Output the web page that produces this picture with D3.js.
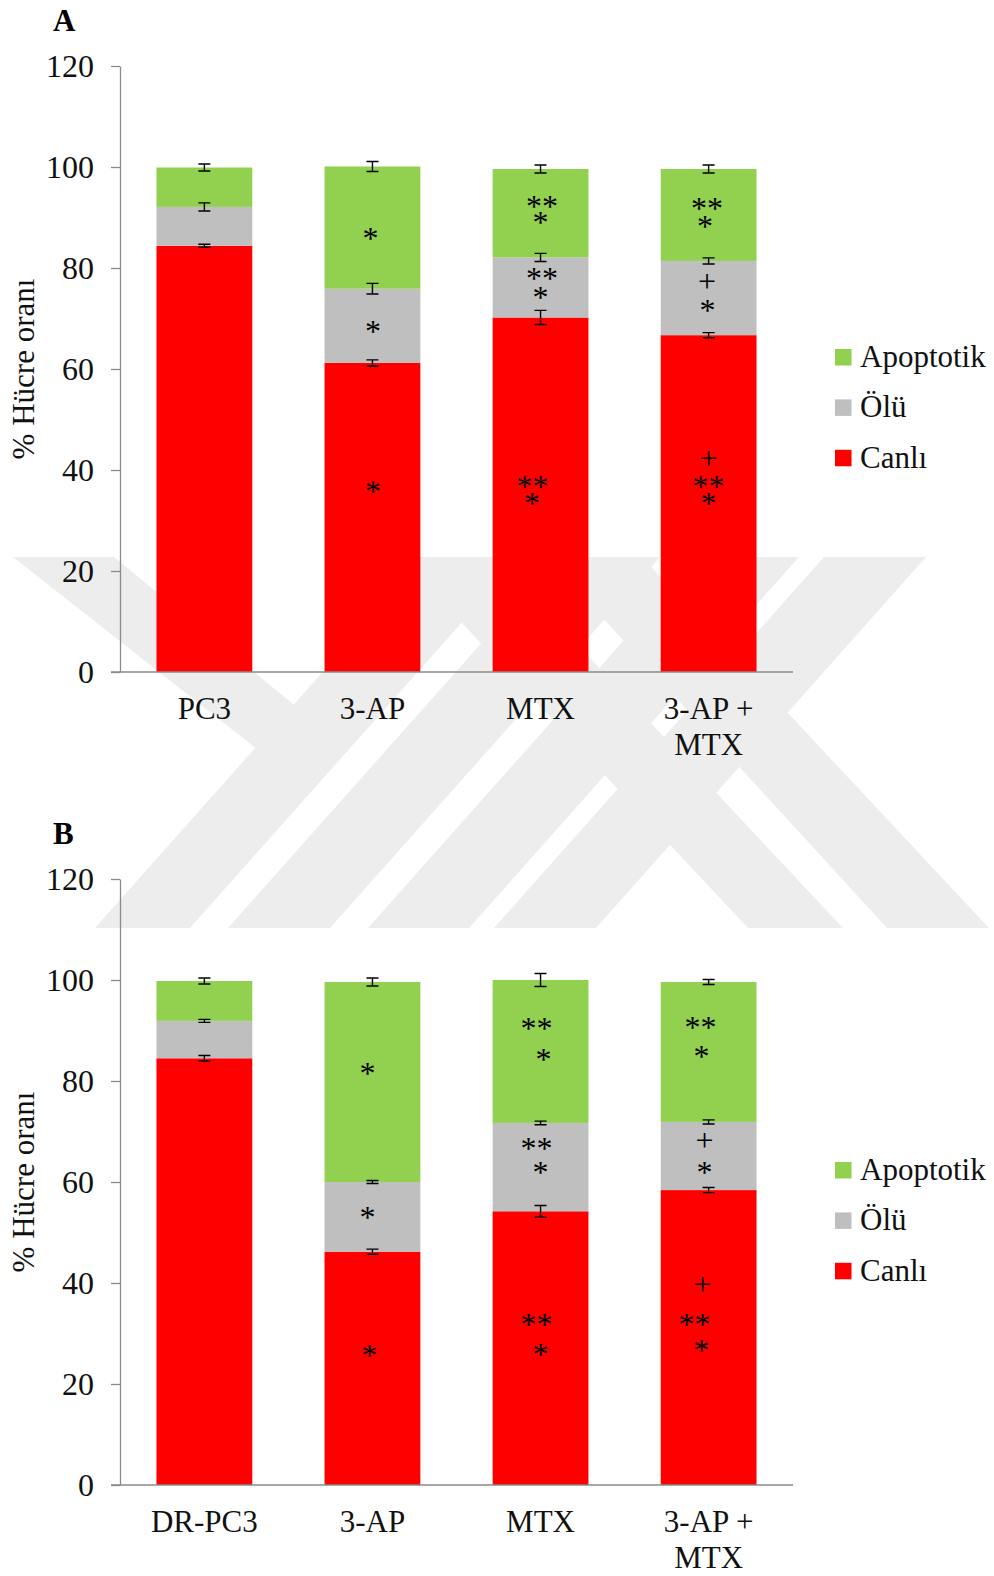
<!DOCTYPE html>
<html>
<head>
<meta charset="utf-8">
<script src="https://cdn.jsdelivr.net/npm/d3@7"></script>
<style>
  html, body { margin: 0; padding: 0; background: #ffffff; }
  svg { display: block; }
</style>
</head>
<body>
<svg id="fig" width="994" height="1576"></svg>
<script>
// ---- data ---------------------------------------------------------------
const seriesNames  = ["Canlı", "Ölü", "Apoptotik"];          // stacking order, bottom to top
const seriesColors = ["#ff0000", "#bfbfbf", "#92d050"];
const legendOrder  = ["Apoptotik", "Ölü", "Canlı"];
const yTicks       = [0, 20, 40, 60, 80, 100, 120];

// Panel A: PC3 cells
const groupsA  = ["PC3", "3-AP", "MTX", "3-AP + MTX"];
const labelsA  = [["PC3"], ["3-AP"], ["MTX"], ["3-AP +", "MTX"]];
const canliA   = [84.4, 61.2, 70.2, 66.7];
const oluA     = [7.7, 14.7, 11.9, 14.7];
const apopA    = [7.8, 24.2, 17.5, 18.2];
const canliErrA = [0.3, 0.6, 1.4, 0.5];
const oluErrA   = [0.8, 1.05, 0.8, 0.6];
const apopErrA  = [0.7, 1.0, 0.8, 0.8];
// significance marks: [group, mark, level (%), horizontal nudge]
const marksA = [
  ["3-AP", "*", 86.8, -2], ["3-AP", "*", 68.4, 0.5], ["3-AP", "*", 36.7, 0.5],
  ["MTX", "**", 93.1, 1.5], ["MTX", "*", 89.9, 0],
  ["MTX", "**", 78.8, 1.5], ["MTX", "*", 75.0, 0],
  ["MTX", "**", 37.7, -8], ["MTX", "*", 34.3, -8.5],
  ["3-AP + MTX", "**", 92.7, -1.5], ["3-AP + MTX", "*", 89.2, -3.5],
  ["3-AP + MTX", "+", 76.8, -1.5], ["3-AP + MTX", "*", 72.5, -1],
  ["3-AP + MTX", "+", 41.8, 0], ["3-AP + MTX", "**", 37.7, 0], ["3-AP + MTX", "*", 34.2, 0]
];

// Panel B: drug-resistant PC3 cells
const groupsB  = ["DR-PC3", "3-AP", "MTX", "3-AP + MTX"];
const labelsB  = [["DR-PC3"], ["3-AP"], ["MTX"], ["3-AP +", "MTX"]];
const canliB   = [84.5, 46.2, 54.2, 58.4];
const oluB     = [7.4, 13.8, 17.5, 13.5];
const apopB    = [7.9, 39.6, 28.3, 27.7];
const canliErrB = [0.55, 0.5, 1.15, 0.5];
const oluErrB   = [0.3, 0.3, 0.35, 0.4];
const apopErrB  = [0.6, 0.8, 1.3, 0.5];
const marksB = [
  ["3-AP", "*", 82.3, -5], ["3-AP", "*", 53.8, -5], ["3-AP", "*", 26.6, -3],
  ["MTX", "**", 91.3, -4], ["MTX", "*", 85.1, 3],
  ["MTX", "**", 67.6, -4], ["MTX", "*", 62.8, 0],
  ["MTX", "**", 32.6, -4], ["MTX", "*", 26.8, 0],
  ["3-AP + MTX", "**", 91.5, -8], ["3-AP + MTX", "*", 85.8, -7],
  ["3-AP + MTX", "+", 67.8, -4], ["3-AP + MTX", "*", 62.8, -4],
  ["3-AP + MTX", "+", 39.2, -6], ["3-AP + MTX", "**", 32.6, -14], ["3-AP + MTX", "*", 27.5, -7]
];

// ---- layout -------------------------------------------------------------
const FONT = '"Liberation Serif", "Times New Roman", Times, serif';
const AXIS_COLOR = "#8a8a8a";
const M = { left: 120, right: 793, top: 66, bottom: 672 };
const TICK = 9;

const svg = d3.select("#fig");
svg.append("rect").attr("width", 994).attr("height", 1576).attr("fill", "#ffffff");

// faint background emblem of diagonal bands behind both panels
(function drawEmblem() {
  const top = 557, bot = 928;
  const bands = [
    // rising bands: x-range at the bottom edge, x-range at the top edge
    [[95, 190], [425, 520]],
    [[228, 330], [558, 660]],
    [[368, 469], [698, 799]],
    [[494, 596], [824, 926]],
    // falling bands
    [[748, 843], [400, 495]],
    [[887, 989], [547, 642]]
  ];
  const polys = bands.map(([b, t]) => [[b[0], bot], [b[1], bot], [t[1], top], [t[0], top]]);
  polys.push([[13, top], [114, top], [310, 718], [267, 757]]);
  svg.append("g").selectAll("path").data(polys).join("path")
    .attr("d", p => "M" + p.map(q => q.join(",")).join("L") + "Z")
    .attr("fill", "#ededed");
})();

function drawPanel(offsetY, letter, groups, labels, canli, olu, apop, errs, marks) {
  const g = svg.append("g").attr("transform", `translate(0,${offsetY})`);

  const x = d3.scaleBand().domain(groups).range([M.left, M.right])
    .paddingInner(0.43).paddingOuter(0.217);
  const y = d3.scaleLinear().domain([0, 120]).range([M.bottom, M.top]);

  const rows = groups.map((grp, i) => ({ group: grp, "Canlı": canli[i], "Ölü": olu[i], "Apoptotik": apop[i] }));
  const stacked = d3.stack().keys(seriesNames)(rows);
  const color = d3.scaleOrdinal().domain(seriesNames).range(seriesColors);

  // y axis
  const yAxis = g.append("g").attr("transform", `translate(${M.left},0)`)
    .call(d3.axisLeft(y).tickValues(yTicks).tickSize(TICK).tickSizeOuter(0).tickPadding(17));
  yAxis.select(".domain").attr("stroke", AXIS_COLOR).attr("stroke-width", 1.3);
  yAxis.selectAll(".tick line").attr("stroke", AXIS_COLOR).attr("stroke-width", 1.3);
  yAxis.selectAll(".tick text").attr("font-family", FONT).attr("font-size", 32).attr("fill", "#111");

  // bars
  g.append("g").selectAll("g").data(stacked).join("g")
    .attr("fill", d => color(d.key))
    .selectAll("rect").data(d => d).join("rect")
    .attr("x", d => x(d.data.group))
    .attr("width", x.bandwidth())
    .attr("y", d => y(d[1]))
    .attr("height", d => y(d[0]) - y(d[1]));

  // x axis baseline
  g.append("line")
    .attr("x1", M.left - TICK).attr("x2", M.right)
    .attr("y1", y(0)).attr("y2", y(0))
    .attr("stroke", AXIS_COLOR).attr("stroke-width", 1.3);

  // error bars at every segment top
  const errRows = [];
  stacked.forEach((s, si) => s.forEach((d, gi) => {
    errRows.push({ cx: x(d.data.group) + x.bandwidth() / 2, v: d[1], e: errs[si][gi] });
  }));
  const eb = g.append("g").attr("stroke", "#000").attr("stroke-width", 1.4).attr("fill", "none");
  eb.selectAll("path").data(errRows).join("path")
    .attr("d", d => {
      const y1 = y(d.v + d.e), y2 = y(d.v - d.e), w = 6;
      return `M${d.cx - w},${y1}H${d.cx + w}M${d.cx},${y1}V${y2}M${d.cx - w},${y2}H${d.cx + w}`;
    });

  // significance marks
  const baseShift = { "*": 0.47, "**": 0.47, "+": 0.25 };
  g.append("g").selectAll("text").data(marks).join("text")
    .attr("x", d => x(d[0]) + x.bandwidth() / 2 + d[3])
    .attr("y", d => y(d[2]) + baseShift[d[1]] * 32)
    .attr("text-anchor", "middle")
    .attr("font-family", FONT).attr("font-size", 32).attr("fill", "#000")
    .text(d => d[1]);

  // category labels
  const lab = g.append("g").selectAll("text").data(groups).join("text")
    .attr("text-anchor", "middle")
    .attr("font-family", FONT).attr("font-size", 31).attr("fill", "#111")
    .attr("transform", d => `translate(${x(d) + x.bandwidth() / 2},${y(0) + 47})`);
  lab.selectAll("tspan").data((d, i) => labels[i]).join("tspan")
    .attr("x", 0).attr("dy", (d, i) => i === 0 ? 0 : 36).text(d => d);

  // y axis title
  g.append("text")
    .attr("transform", `translate(34,${(y(0) + y(120)) / 2}) rotate(-90)`)
    .attr("text-anchor", "middle")
    .attr("font-family", FONT).attr("font-size", 31).attr("fill", "#111")
    .text("% Hücre oranı");

  // panel letter
  g.append("text").attr("x", 53).attr("y", 31)
    .attr("font-family", FONT).attr("font-size", 31).attr("font-weight", "bold").attr("fill", "#000")
    .text(letter);

  // legend
  const leg = g.append("g").selectAll("g").data(legendOrder).join("g")
    .attr("transform", (d, i) => `translate(835,${357.3 + i * 50.4})`);
  leg.append("rect").attr("x", 0).attr("y", -8.3).attr("width", 16.5).attr("height", 16.5)
    .attr("fill", d => color(d));
  leg.append("text").attr("x", 25).attr("y", 9.5)
    .attr("font-family", FONT).attr("font-size", 31).attr("fill", "#111")
    .text(d => d);
}

drawPanel(0, "A", groupsA, labelsA, canliA, oluA, apopA, [canliErrA, oluErrA, apopErrA], marksA);
drawPanel(813, "B", groupsB, labelsB, canliB, oluB, apopB, [canliErrB, oluErrB, apopErrB], marksB);
</script>
</body>
</html>
